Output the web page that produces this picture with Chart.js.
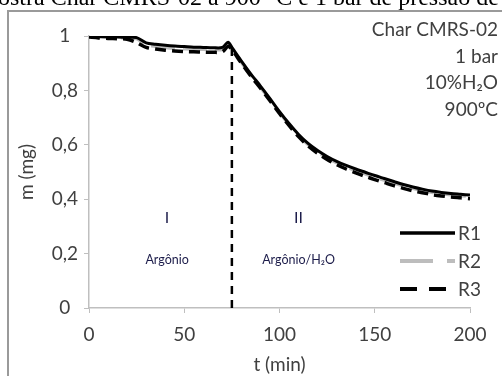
<!DOCTYPE html>
<html><head><meta charset="utf-8">
<script src="https://cdn.jsdelivr.net/npm/chart.js@4.4.1/dist/chart.umd.min.js"></script>
<style>html,body{margin:0;padding:0;background:#fff;}canvas{display:block;}</style>
</head><body>
<canvas id="c" width="502" height="376"></canvas>
<script>
const tMin = [0,5,10,15,20,25,30,35,40,45,50,55,60,65,70,73,75,80,85,90,95,100,105,110,115,120,125,130,135,140,145,150,155,160,165,170,175,180,185,190,195,200];
const R1 = [1.0,0.998,0.997,0.996,0.995,0.994,0.975,0.970,0.966,0.963,0.961,0.959,0.958,0.957,0.958,0.977,0.958,0.908,0.860,0.816,0.770,0.722,0.678,0.638,0.605,0.579,0.557,0.539,0.524,0.511,0.499,0.487,0.476,0.465,0.454,0.445,0.437,0.430,0.425,0.421,0.418,0.415];
const R2 = [1.0,0.997,0.995,0.994,0.993,0.990,0.968,0.962,0.958,0.955,0.953,0.952,0.951,0.950,0.951,0.970,0.954,0.904,0.856,0.812,0.766,0.719,0.675,0.635,0.601,0.575,0.552,0.534,0.519,0.505,0.493,0.481,0.470,0.459,0.449,0.440,0.432,0.425,0.420,0.416,0.413,0.410];
const R3 = [0.996,0.993,0.991,0.990,0.988,0.976,0.958,0.952,0.948,0.945,0.943,0.942,0.941,0.940,0.942,0.962,0.950,0.900,0.852,0.808,0.762,0.715,0.671,0.630,0.596,0.569,0.546,0.527,0.511,0.497,0.484,0.472,0.461,0.450,0.440,0.431,0.424,0.417,0.412,0.408,0.405,0.402];
const boundaryT = 75;
const boundaryM = [0, 0.97];
const seriesNames = ['R1','R2','R3'];
const xTicks = [0,50,100,150,200];
const yTicks = [0,0.2,0.4,0.6,0.8,1];
const infoLines = ['Char CMRS-02','1 bar','10%H\u2082O','900\u00BAC'];
const phaseLabels = [{roman:'I', name:'Argônio', t:41}, {roman:'II', name:'Argônio/H\u2082O', t:110}];
const titleText = 'ostra Char CMRS-02 a 900 °C e 1 bar de pressão de';

const FONT = 'Lato, "Open Sans", sans-serif';
const txt = '#404040';
const axisCol = '#bfbfbf';

function pts(arr){ return tMin.map((t,i)=>({x:t,y:arr[i]})); }

const styles = [
  {borderColor:'#000', borderWidth:3, borderDash:[]},
  {borderColor:'#bdbdbd', borderWidth:3.5, borderDash:[24,8]},
  {borderColor:'#000', borderWidth:3.5, borderDash:[11,6]}
];

const decor = {
  id:'decor',
  beforeDraw(chart){
    const ctx = chart.ctx;
    ctx.save();
    ctx.fillStyle='#fff'; ctx.fillRect(0,0,chart.width,chart.height);
    ctx.font = '24px "Liberation Serif", serif';
    ctx.fillStyle='#000'; ctx.textBaseline='alphabetic'; ctx.textAlign='left';
    ctx.fillText(titleText, -2, 5);
    ctx.strokeStyle='#9a9a9a'; ctx.lineWidth=2;
    ctx.strokeRect(8, 11, chart.width+10, chart.height+10);
    ctx.restore();
  },
  afterDraw(chart){
    const ctx = chart.ctx, xs = chart.scales.x, ys = chart.scales.y;
    ctx.save();
    ctx.font = '19px '+FONT; ctx.fillStyle=txt; ctx.textAlign='right'; ctx.textBaseline='middle';
    infoLines.forEach((s,i)=>ctx.fillText(s, 498, 30 + i*26.6));
    phaseLabels.forEach(p=>{
      const x = xs.getPixelForValue(p.t);
      ctx.fillStyle='#1c1c4a'; ctx.textAlign='center';
      ctx.font = '16px '+FONT;
      ctx.fillText(p.roman, x, ys.getPixelForValue(0.33));
      ctx.font = '12.5px '+FONT;
      ctx.fillText(p.name, x, ys.getPixelForValue(0.178));
    });
    const lx0 = 400, lx1 = 455;
    seriesNames.forEach((n,i)=>{
      const y = 233 + i*28;
      const st = styles[i];
      ctx.strokeStyle = st.borderColor; ctx.lineWidth = st.borderWidth+0.5;
      ctx.setLineDash(i===1?[33,14]:(i===2?[17,12]:[]));
      ctx.beginPath(); ctx.moveTo(lx0,y); ctx.lineTo(lx1,y); ctx.stroke();
      ctx.setLineDash([]);
      ctx.font='19px '+FONT; ctx.fillStyle=txt; ctx.textAlign='left'; ctx.textBaseline='middle';
      ctx.fillText(n, 458, y+1);
    });
    ctx.restore();
  }
};

const datasets = [R1,R2,R3].map((arr,i)=>({
  label: seriesNames[i], data: pts(arr), pointRadius:0, tension:0.3,
  borderColor: styles[i].borderColor, borderWidth: styles[i].borderWidth, borderDash: styles[i].borderDash,
  order: [1,3,2][i], fill:false
}));
datasets.push({label:'limite', data:[{x:boundaryT,y:boundaryM[0]},{x:boundaryT,y:boundaryM[1]}],
  pointRadius:0, borderColor:'#000', borderWidth:2.5, borderDash:[8,6], order:0});

new Chart(document.getElementById('c'), {
  type:'line',
  data:{datasets},
  options:{
    responsive:false, animation:false, devicePixelRatio:1,
    layout:{padding:{top:36,right:32,left:0,bottom:0}},
    plugins:{legend:{display:false}, tooltip:{enabled:false}},
    scales:{
      x:{type:'linear', min:0, max:200,
        afterBuildTicks(s){ s.ticks = xTicks.map(v=>({value:v})); },
        afterFit(s){ s.height = 68; },
        grid:{drawOnChartArea:false, drawTicks:true, tickLength:5, color:axisCol},
        border:{color:axisCol, width:1.5},
        ticks:{font:{family:FONT,size:19}, color:txt, padding:10, maxRotation:0},
        title:{display:true, text:'t (min)', font:{family:FONT,size:19}, color:txt, padding:{top:0,bottom:0}}
      },
      y:{type:'linear', min:0, max:1,
        afterBuildTicks(s){ s.ticks = yTicks.map(v=>({value:v})); },
        afterFit(s){ s.width = 89; },
        grid:{drawOnChartArea:false, drawTicks:true, tickLength:5, color:axisCol},
        border:{color:axisCol, width:1.5},
        ticks:{font:{family:FONT,size:19}, color:txt, padding:6, crossAlign:'center',
          callback:v=>String(v).replace('.',',')},
        title:{display:true, text:'m (mg)', font:{family:FONT,size:19}, color:txt, padding:{top:15,bottom:0}}
      }
    }
  },
  plugins:[decor]
});
</script>
</body></html>
